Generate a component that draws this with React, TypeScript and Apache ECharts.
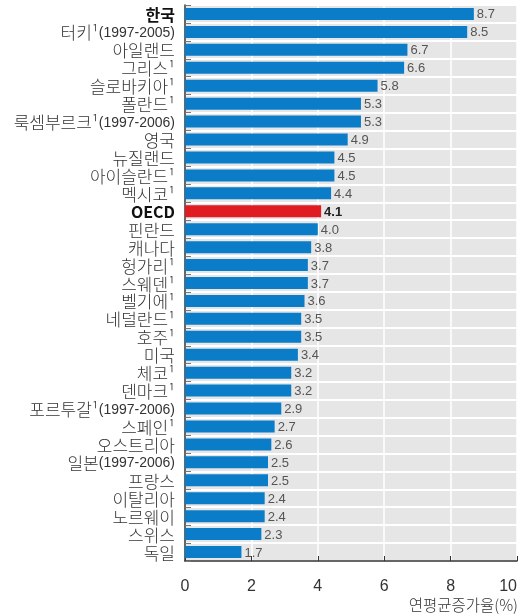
import React, { useEffect, useRef } from "react";
import * as echarts from "echarts";

const categories = [
  "한국", "터키", "아일랜드", "그리스", "슬로바키아", "폴란드", "룩셈부르크", "영국",
  "뉴질랜드", "아이슬란드", "멕시코", "OECD", "핀란드", "캐나다", "헝가리", "스웨덴",
  "벨기에", "네덜란드", "호주", "미국", "체코", "덴마크", "포르투갈", "스페인",
  "오스트리아", "일본", "프랑스", "이탈리아", "노르웨이", "스위스", "독일",
];
const footnoted = [
  "터키", "그리스", "슬로바키아", "폴란드", "룩셈부르크", "아이슬란드", "멕시코", "헝가리",
  "스웨덴", "벨기에", "네덜란드", "호주", "체코", "덴마크", "포르투갈", "스페인",
];
const periods: Record<string, string> = {
  "터키": "(1997-2005)",
  "룩셈부르크": "(1997-2006)",
  "포르투갈": "(1997-2006)",
  "일본": "(1997-2006)",
};
const values = [
  8.7, 8.5, 6.7, 6.6, 5.8, 5.3, 5.3, 4.9, 4.5, 4.5, 4.4, 4.1, 4.0, 3.8, 3.7, 3.7,
  3.6, 3.5, 3.5, 3.4, 3.2, 3.2, 2.9, 2.7, 2.6, 2.5, 2.5, 2.4, 2.4, 2.3, 1.7,
];
const xTicks = [0, 2, 4, 6, 8, 10];
const axisTitle = "연평균증가율(%)";
const highlighted = ["한국", "OECD"];

const KO = "'Noto Sans CJK KR', 'Noto Sans', sans-serif";
const NUM = "'Liberation Sans', Arial, sans-serif";

export default function App() {
  const ref = useRef<HTMLDivElement>(null);
  useEffect(() => {
    if (!ref.current) return;
    const chart = echarts.init(ref.current, undefined, { renderer: "svg" });
    const data = values.map((v, i) => {
      const c = categories[i];
      const isOecd = c === "OECD";
      return {
        value: v,
        itemStyle: { color: isOecd ? "#e11b22" : "#0a7cc8" },
        label: isOecd ? { fontWeight: "bold", color: "#222" } : undefined,
      };
    });
    chart.setOption({
      animation: false,
      grid: {
        left: 185,
        right: 0,
        top: 5,
        bottom: 53,
        show: true,
        backgroundColor: "#e6e6e6",
        borderWidth: 0,
      },
      xAxis: {
        type: "value",
        min: 0,
        max: 10,
        interval: 2,
        axisLine: { show: true, lineStyle: { color: "#333", width: 1.5 } },
        axisTick: { show: true, inside: true, length: 5, lineStyle: { color: "#333" } },
        splitLine: { show: true, lineStyle: { color: "#ffffff", width: 1.5 } },
        axisLabel: {
          margin: 16,
          fontSize: 16,
          color: "#333",
          fontFamily: NUM,
          alignMaxLabel: "right",
          formatter: (v: number) => (xTicks.includes(v) ? String(v) : ""),
        },
      },
      yAxis: {
        type: "category",
        inverse: true,
        data: categories,
        axisLine: { show: true, lineStyle: { color: "#333", width: 1.5 } },
        axisTick: { show: true, inside: true, length: 6, lineStyle: { color: "#777" } },
        splitLine: { show: true, lineStyle: { color: "#ffffff", width: 2 } },
        axisLabel: {
          margin: 10,
          formatter: (c: string) => {
            if (highlighted.includes(c)) return `{b|${c}}`;
            const name = c + (footnoted.includes(c) ? "\u00b9" : "");
            let s = `{k|${name}}`;
            if (periods[c]) s += `{p|${periods[c]}}`;
            return s;
          },
          rich: {
            k: { fontFamily: KO, fontSize: 17, fontWeight: 300, color: "#333", lineHeight: 17 },
            b: { fontFamily: KO, fontSize: 16, color: "#111", fontWeight: "bold", lineHeight: 17 },
            p: { fontFamily: NUM, fontSize: 14, color: "#333", lineHeight: 17 },
          },
        },
      },
      series: [
        {
          type: "bar",
          data,
          barWidth: 12,
          label: {
            show: true,
            position: "right",
            distance: 3,
            color: "#555",
            fontSize: 13,
            fontFamily: NUM,
            formatter: (p: any) => Number(p.value).toFixed(1),
          },
        },
      ],
      graphic: [
        {
          type: "text",
          right: 2,
          top: 596,
          style: { text: axisTitle, fontFamily: KO, fontSize: 15.5, fontWeight: 300, fill: "#333" },
        },
      ],
    });
    return () => chart.dispose();
  }, []);
  return (
    <div
      ref={ref}
      style={{ position: "fixed", left: 0, top: 0, width: 520, height: 614 }}
    />
  );
}
